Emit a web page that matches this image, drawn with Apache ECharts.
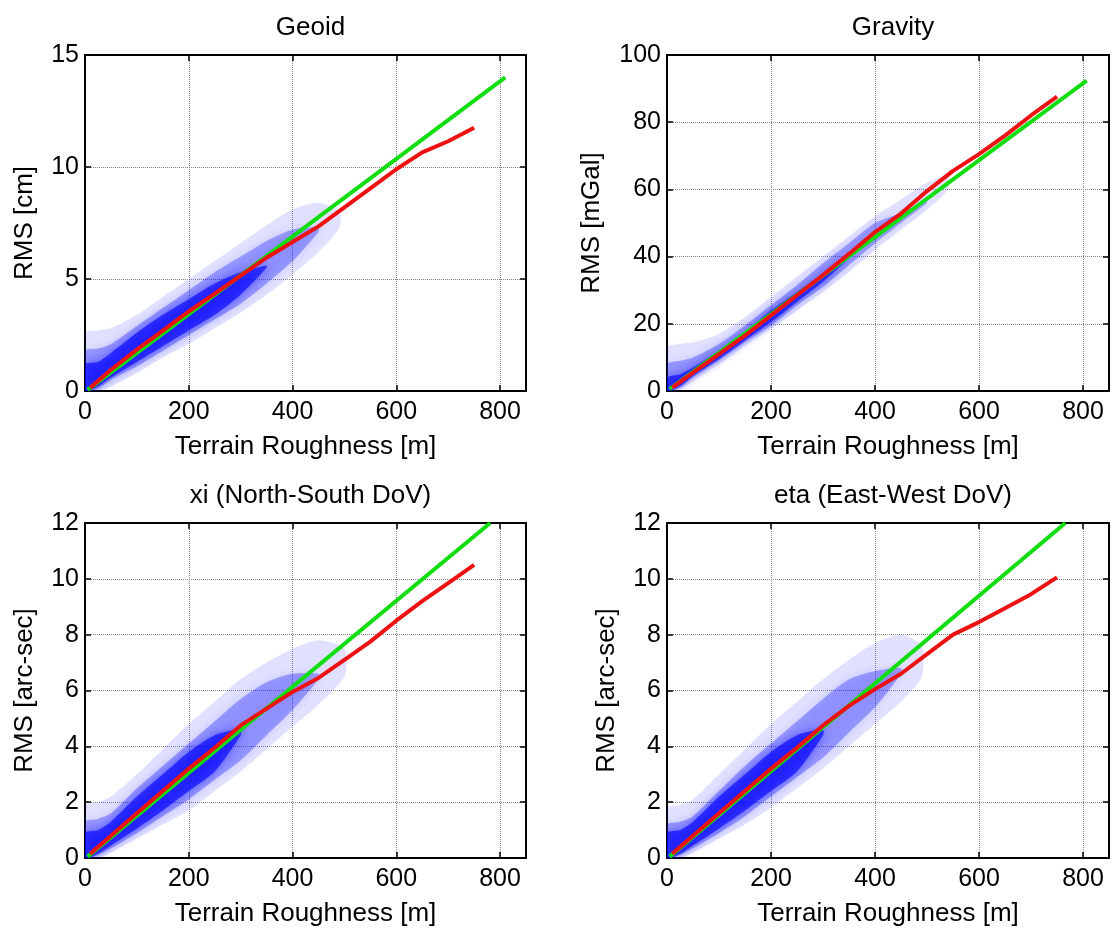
<!DOCTYPE html>
<html><head><meta charset="utf-8">
<script src="https://cdn.jsdelivr.net/npm/echarts@6/dist/echarts.min.js"></script>
<style>html,body{margin:0;padding:0;background:#fff}#c{width:1112px;height:928px}</style>
</head><body><div id="c"></div>
<script>
// ---------- DATA ----------
const panelTitles = ['Geoid', 'Gravity', 'xi (North-South DoV)', 'eta (East-West DoV)'];
const yAxisNames = ['RMS [cm]', 'RMS [mGal]', 'RMS [arc-sec]', 'RMS [arc-sec]'];
const xAxisName = 'Terrain Roughness [m]';
const xMax = 850, xInterval = 200;
const yMaxes = [15, 100, 12, 12];
const yIntervals = [5, 20, 2, 2];

// red curves (binned RMS)
const redX = [10, 50, 100, 150, 200, 250, 300, 350, 400, 450, 500, 550, 600, 650, 700, 750];
const geoidRed   = [0.15, 0.95, 1.85, 2.7, 3.55, 4.35, 5.15, 5.95, 6.65, 7.35, 8.2, 9.05, 9.9, 10.65, 11.15, 11.75];
const gravityRed = [1.0, 5.5, 11, 16.5, 22.5, 28.5, 34.5, 40.8, 47.3, 52.8, 59.5, 65.5, 70.5, 76, 82, 87.6];
const xiRed      = [0.15, 0.8, 1.6, 2.4, 3.2, 3.95, 4.75, 5.35, 5.95, 6.45, 7.1, 7.75, 8.5, 9.2, 9.85, 10.5];
const etaRed     = [0.15, 0.8, 1.6, 2.4, 3.2, 3.95, 4.75, 5.45, 6.05, 6.6, 7.3, 8.0, 8.45, 8.95, 9.45, 10.05];

// green curves (linear model)
const geoidGreenX = [5, 810],   geoidGreen = [0.05, 14.0];
const gravityGreenX = [5, 807], gravityGreen = [0.6, 92.4];
const xiGreenX = [5, 781],      xiGreen = [0.05, 12.0];
const etaGreenX = [5, 766],     etaGreen = [0.05, 12.0];

// scatter cloud envelopes (outer = sparse, mid, inner = densest)
const geoidCloudX  = [0, 25, 50, 100, 150, 200, 250, 300, 350, 400, 450, 490];
const geoidOuterLo = [0, 0, 0.2, 0.8, 1.5, 2.1, 2.8, 3.5, 4.3, 5.2, 6.2, 7.3];
const geoidOuterHi = [2.6, 2.7, 2.8, 3.4, 4.2, 5.0, 5.8, 6.6, 7.4, 8.1, 8.4, 8.0];
const geoidMidLo   = [0, 0.1, 0.5, 1.1, 1.8, 2.5, 3.2, 3.9, 4.8, 5.8, 7.1, null];
const geoidMidHi   = [1.8, 1.9, 2.1, 2.9, 3.7, 4.5, 5.3, 6.0, 6.7, 7.2, 7.3, null];
const geoidInLo    = [0, 0.2, 0.6, 1.3, 2.0, 2.7, 3.4, 4.3, 5.5, null, null, null];
const geoidInHi    = [1.2, 1.3, 1.7, 2.6, 3.4, 4.1, 4.8, 5.3, 5.6, null, null, null];

const gravityCloudX  = [0, 25, 50, 100, 150, 200, 250, 300, 350, 400, 450, 500, 540];
const gravityOuterLo = [0, 0.5, 3, 8, 13.5, 18.5, 24, 29.5, 35.5, 42, 48, 54, 60];
const gravityOuterHi = [13, 14, 14.5, 17, 22, 28, 34, 40, 46, 52, 57, 62, 64];
const gravityMidLo   = [0, 1, 4, 9, 14.5, 19.5, 25.5, 31, 37.5, 44, 50, 56, null];
const gravityMidHi   = [8, 9, 10, 14, 19.5, 25.5, 31.5, 38, 44, 50, 53, 56.5, null];
const gravityInLo    = [0, 1.5, 4.5, 9.5, 15, 20.5, 26.5, 32.5, 39.5, null, null, null, null];
const gravityInHi    = [4, 5, 7, 12, 17.5, 24, 29.5, 35, 40, null, null, null, null];

const xiCloudX  = [0, 25, 50, 100, 150, 200, 250, 300, 350, 400, 450, 500];
const xiOuterLo = [0, 0, 0.2, 0.7, 1.2, 1.7, 2.4, 3.1, 3.9, 4.7, 5.5, 6.5];
const xiOuterHi = [1.9, 2.0, 2.2, 3.0, 3.9, 4.8, 5.6, 6.4, 7.0, 7.5, 7.8, 7.5];
const xiMidLo   = [0, 0.1, 0.35, 0.9, 1.5, 2.1, 2.8, 3.5, 4.4, 5.3, 6.4, null];
const xiMidHi   = [1.3, 1.4, 1.6, 2.5, 3.3, 4.1, 4.9, 5.7, 6.3, 6.6, 6.6, null];
const xiInLo    = [0, 0.15, 0.45, 1.05, 1.7, 2.4, 3.1, 4.4, null, null, null, null];
const xiInHi    = [0.9, 1.0, 1.3, 2.2, 3.0, 3.8, 4.4, 4.6, null, null, null, null];

const etaCloudX  = [0, 25, 50, 100, 150, 200, 250, 300, 350, 400, 450, 490];
const etaOuterLo = [0, 0, 0.2, 0.7, 1.2, 1.8, 2.5, 3.2, 4.0, 4.8, 5.6, 6.5];
const etaOuterHi = [1.8, 1.9, 2.1, 3.0, 3.9, 4.8, 5.6, 6.4, 7.1, 7.7, 8.0, 7.6];
const etaMidLo   = [0, 0.1, 0.35, 0.9, 1.5, 2.2, 2.9, 3.6, 4.5, 5.4, 6.6, null];
const etaMidHi   = [1.2, 1.3, 1.5, 2.4, 3.3, 4.1, 4.9, 5.7, 6.4, 6.7, 6.8, null];
const etaInLo    = [0, 0.15, 0.45, 1.05, 1.7, 2.4, 3.1, 4.4, null, null, null, null];
const etaInHi    = [0.9, 1.0, 1.3, 2.2, 3.0, 3.8, 4.4, 4.6, null, null, null, null];

// ---------- ASSEMBLY ----------
const panelRed = [geoidRed, gravityRed, xiRed, etaRed];
const panelGreen = [[geoidGreenX, geoidGreen], [gravityGreenX, gravityGreen], [xiGreenX, xiGreen], [etaGreenX, etaGreen]];
const panelCloud = [
  [geoidCloudX, [[geoidOuterLo, geoidOuterHi], [geoidMidLo, geoidMidHi], [geoidInLo, geoidInHi]]],
  [gravityCloudX, [[gravityOuterLo, gravityOuterHi], [gravityMidLo, gravityMidHi], [gravityInLo, gravityInHi]]],
  [xiCloudX, [[xiOuterLo, xiOuterHi], [xiMidLo, xiMidHi], [xiInLo, xiInHi]]],
  [etaCloudX, [[etaOuterLo, etaOuterHi], [etaMidLo, etaMidHi], [etaInLo, etaInHi]]]
];

// layout (pixels)
const gridBoxes = [
  {left: 85, top: 55, width: 441, height: 336},
  {left: 667, top: 55, width: 442, height: 336},
  {left: 85, top: 523, width: 441, height: 335},
  {left: 667, top: 523, width: 442, height: 335}
];
const yNameGaps = [47, 62, 47, 47];
const cloudColors = ['rgba(40,40,255,0.13)', 'rgba(20,20,255,0.32)', 'rgba(0,0,255,0.62)'];
const FONT = '"Liberation Sans", Arial, Helvetica, sans-serif';

const grids = [], xAxes = [], yAxes = [], series = [], titles = [];
gridBoxes.forEach((g, i) => {
  grids.push(Object.assign({show: false, containLabel: false}, g));
  titles.push({
    text: panelTitles[i], left: g.left + g.width / 2, top: g.top - 45, textAlign: 'center',
    textStyle: {fontFamily: FONT, fontSize: 26, fontWeight: 'normal', color: '#000'}
  });
  const lineStyle = {color: '#000', width: 2};
  xAxes.push({
    gridIndex: i, type: 'value', min: 0, max: xMax, interval: xInterval, position: 'bottom',
    name: xAxisName, nameLocation: 'middle', nameGap: 43,
    nameTextStyle: {fontFamily: FONT, fontSize: 26, color: '#000'},
    axisLine: {show: true, onZero: false, lineStyle},
    axisTick: {show: true, inside: true, length: 6, lineStyle: {color: '#000', width: 1.5}},
    axisLabel: {fontFamily: FONT, fontSize: 25, color: '#000', margin: 9,
      formatter: v => (v % xInterval === 0 ? String(v) : '')},
    splitLine: {show: true, lineStyle: {color: '#888', type: 'dotted', width: 1}}
  });
  xAxes.push({
    gridIndex: i, type: 'value', min: 0, max: xMax, interval: xInterval, position: 'top',
    axisLine: {show: true, onZero: false, lineStyle},
    axisTick: {show: true, inside: true, length: 6, lineStyle: {color: '#000', width: 1.5}},
    axisLabel: {show: false}, splitLine: {show: false}
  });
  yAxes.push({
    gridIndex: i, type: 'value', min: 0, max: yMaxes[i], interval: yIntervals[i], position: 'left',
    name: yAxisNames[i], nameLocation: 'middle', nameGap: yNameGaps[i], nameRotate: 90,
    nameTextStyle: {fontFamily: FONT, fontSize: 26, color: '#000'},
    axisLine: {show: true, onZero: false, lineStyle},
    axisTick: {show: true, inside: true, length: 6, lineStyle: {color: '#000', width: 1.5}},
    axisLabel: {fontFamily: FONT, fontSize: 25, color: '#000', margin: 6},
    splitLine: {show: true, lineStyle: {color: '#888', type: 'dotted', width: 1}}
  });
  yAxes.push({
    gridIndex: i, type: 'value', min: 0, max: yMaxes[i], interval: yIntervals[i], position: 'right',
    axisLine: {show: true, onZero: false, lineStyle},
    axisTick: {show: true, inside: true, length: 6, lineStyle: {color: '#000', width: 1.5}},
    axisLabel: {show: false}, splitLine: {show: false}
  });

  const xi = i * 2, yi = i * 2;
  const [cx, bands] = panelCloud[i];
  series.push({
    type: 'custom', xAxisIndex: xi, yAxisIndex: yi, silent: true, z: 1, clip: true,
    data: [[0, 0]],
    renderItem: (params, api) => {
      const children = bands.map(([lo, hi], b) => {
        const top = [], bot = [];
        for (let k = 0; k < cx.length; k++) {
          if (lo[k] == null || hi[k] == null) continue;
          top.push(api.coord([cx[k], hi[k]]));
          bot.push(api.coord([cx[k], lo[k]]));
        }
        return {
          type: 'polygon', shape: {points: top.concat(bot.reverse()), smooth: 0.25},
          style: {fill: cloudColors[b], shadowBlur: 8, shadowColor: cloudColors[b]}
        };
      });
      return {type: 'group', children};
    }
  });
  const [gx, gy] = panelGreen[i];
  series.push({
    type: 'line', xAxisIndex: xi, yAxisIndex: yi, z: 3, symbol: 'none', silent: true,
    data: gx.map((x, k) => [x, gy[k]]),
    lineStyle: {color: '#11dd11', width: 4}
  });
  series.push({
    type: 'line', xAxisIndex: xi, yAxisIndex: yi, z: 4, symbol: 'none', silent: true,
    data: redX.map((x, k) => [x, panelRed[i][k]]),
    lineStyle: {color: '#ee1111', width: 4}
  });
});

const chart = echarts.init(document.getElementById('c'), null, {renderer: 'canvas'});
chart.setOption({
  animation: false, backgroundColor: '#fff',
  title: titles, grid: grids, xAxis: xAxes, yAxis: yAxes, series
});
</script></body></html>
